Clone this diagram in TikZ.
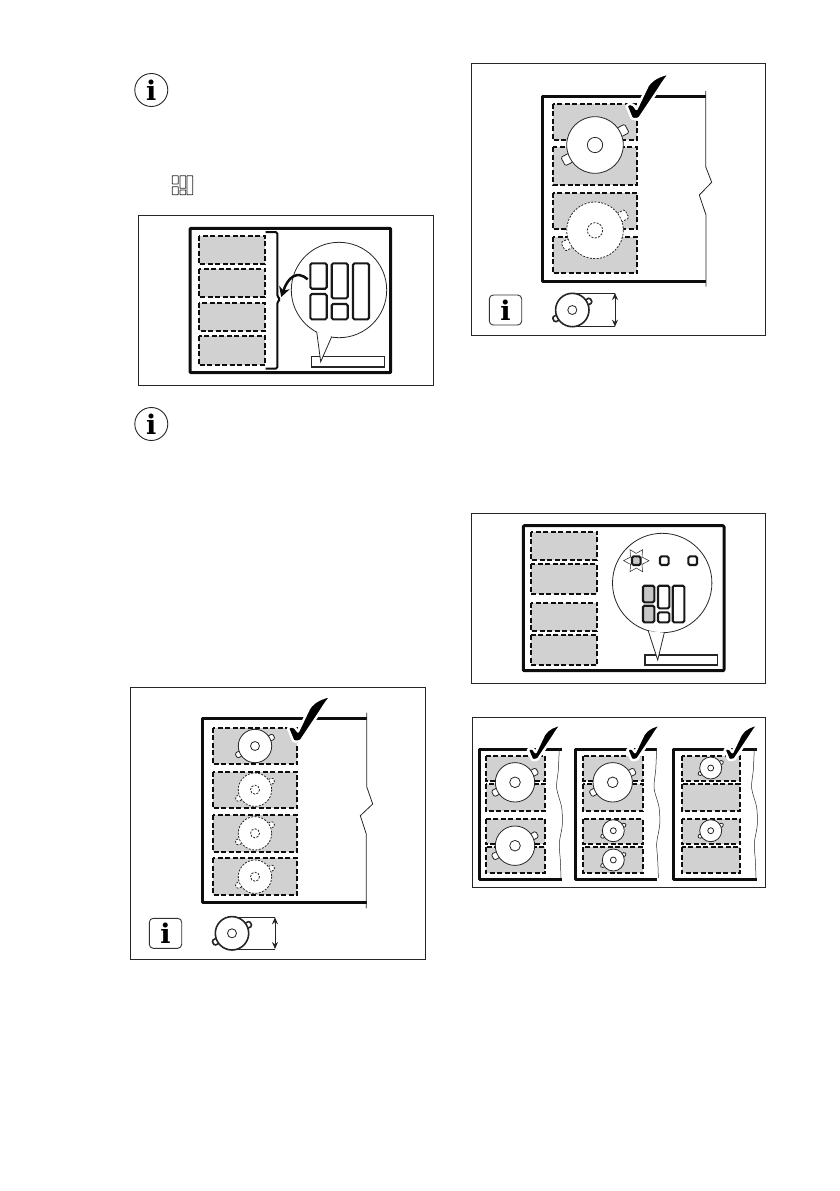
\documentclass[tikz,border=0pt]{standalone}
\usepackage{fontspec}
\usepackage{tikz}
\usetikzlibrary{arrows.meta,positioning,calc}
\newfontfamily\infofont{DejaVu Serif}

\begin{document}
\begin{tikzpicture}[x=1pt,y=-1pt,
  frameline/.style={draw=black!85, line width=0.8pt},
  panel/.style={draw=black!95, line width=3pt, line join=round},
  zone/.style={fill=black!18, draw=black!95, line width=1.9pt, dash pattern=on 5pt off 2.5pt},
  keybox/.style={fill=white, draw=black!90, line width=2.1pt, rounded corners=1.5pt},
  litkey/.style={keybox, fill=black!22},
  thinline/.style={draw=black!85, line width=0.8pt},
  lidline/.style={dash pattern=on 2pt off 1.4pt},
  infotxt/.style={inner sep=0pt, font=\fontsize{27}{27}\infofont\bfseries},
  infobox/.style={draw=black!80, line width=0.9pt, rounded corners=4pt}]

\useasboundingbox (0,0) rectangle (839,1191);

\def\drawpot#1#2#3#4{
  \begin{scope}[shift={(#1,#2)},scale=#3]
    \filldraw[fill=white, thinline, #4, rotate=27.5, rounded corners=1.4pt] (0.85,-0.17) rectangle (1.27,0.17);
    \filldraw[fill=white, thinline, #4, rotate=207.5, rounded corners=1.4pt] (0.85,-0.17) rectangle (1.27,0.17);
    \filldraw[fill=white, thinline, #4] (0,0) circle (1);
  \end{scope}
}

\def\drawhub#1#2#3#4{
  \begin{scope}[shift={(#1,#2)},scale=#3]
    \draw[thinline, #4] (0,0) circle (0.27);
  \end{scope}
}

\def\drawtick#1#2#3{
  \begin{scope}[shift={(#1,#2)},scale=#3]
    \filldraw[fill=black, draw=white, line width=2.4pt, line join=round]
      (-7,-13) .. controls (-5,-15.5) and (-2,-16) .. (0,-14)
      -- (3,-10) -- (14,-33) .. controls (19,-41) and (28,-44) .. (37,-46)
      .. controls (33,-42) and (29,-36) .. (26,-31) -- (6,-1)
      .. controls (4,0.5) and (-1,0.5) .. (-2,-1) -- cycle;
  \end{scope}
}

\def\drawwave#1{
  \begin{scope}[shift={(#1,0)}]
    \draw[thinline, line width=0.5pt] plot[smooth] coordinates {(0,748) (-1,770) (-2.7,788) (2.3,807)
      (3,825) (0,843) (1,860) (1.7,878)};
  \end{scope}
}

\node[circle, draw=black!85, line width=0.9pt, minimum size=33pt, inner sep=0pt] (info1) at (151.3,90) {};
\node[infotxt] (info1i) at (151.3,90) {i};
\node[circle, draw=black!85, line width=0.9pt, minimum size=33pt, inner sep=0pt] (info2) at (151.3,424) {};
\node[infotxt] (info2i) at (151.3,424) {i};

\foreach \a/\b/\c/\d in {172.3/175.7/178.3/184, 172.3/186.7/178.3/194.7, 180/175.7/185.7/188.3,
                         180/190/185.7/194.7, 187/175.7/192.7/194.7}
  \draw[thinline, rounded corners=0.5pt] (\a,\b) rectangle (\c,\d);

\draw[frameline] (138.3,215.3) rectangle (433.3,385.3);
\draw[panel, rounded corners=1pt] (190,228.3) rectangle (390.7,372.7);
\foreach \b/\d in {235.7/264, 268.7/297.3, 302.7/330.7, 336/365}
  \filldraw[zone] (198.7,\b) rectangle (265,\d);
\draw[draw=black!95, line width=2pt, rounded corners=1.5pt] (265.7,232) -- (277.3,232) -- (277.3,296.5)
  -- (280.3,299.3) -- (277.3,302) -- (277.3,368.7) -- (265.7,368.7);
\draw[thinline, line width=1.2pt, fill=white] (311.7,356.7) rectangle (384.3,367);
\filldraw[fill=white, thinline] (339,290) circle (47.7);
\fill[white] (316.7,331.7) -- (320.7,361.7) -- (331.7,336.7) -- cycle;
\draw[thinline] (316.7,331.7) -- (320.7,361.7) -- (331.7,336.7);
\foreach \a/\b/\c/\d in {310.3/263.3/326.7/288.7, 310.3/294/326.7/319.3, 331.7/263.3/347.7/298.3,
                         331.7/304/347.7/319.3, 353/263.3/369/319.3}
  \draw[keybox] (\a,\b) rectangle (\c,\d);
\coordinate (keystart) at (307.7,279.3);
\coordinate (bracetip) at (281.2,297);
\draw[-{Stealth[length=10pt,width=11pt]}, draw=black!95, line width=2.5pt] (keystart) .. controls (297,270) and (288,277) .. (bracetip);

\draw[frameline] (130.3,687.3) rectangle (425.3,959.3);
\draw[panel] (366.7,718.3) -- (202.3,718.3) -- (202.3,902.3) -- (366.7,902.3);
\draw[thinline] (366.7,712.7) -- (366.7,786.7) -- (372.7,804) -- (360.3,815.7) -- (366.3,834) -- (366.3,908.3);
\foreach \b/\d in {727.7/764.3, 771.7/808.3, 815/851.7, 858.3/895}
  \filldraw[zone] (212.7,\b) rectangle (297.3,\d);
\drawpot{255}{746}{16.7}{}
\drawhub{255}{746}{16.7}{}
\foreach \y in {789.7, 833.3, 876.7}
  {\drawpot{255}{\y}{16.7}{lidline}\drawhub{255}{\y}{16.7}{lidline}}
\drawtick{295}{741.5}{1}
\draw[infobox] (149.3,918.3) rectangle (181.7,948.3);
\node[infotxt] (info3i) at (165.5,933.3) {i};
\draw[thinline] (232,917.3) -- (275,917.3);
\draw[thinline] (232,949) -- (275,949);
\drawpot{232}{933.3}{16.7}{line width=1.6pt}
\drawhub{232}{933.3}{16.7}{}
\coordinate (dimtop1) at (275,917.3);
\coordinate (dimbot1) at (275,949);
\draw[{Stealth[length=7pt,width=6pt]}-{Stealth[length=7pt,width=6pt]}, draw=black!85, line width=0.8pt] (dimtop1) -- (dimbot1);

\draw[frameline] (471.3,63.3) rectangle (765.7,335);
\draw[panel] (705.7,96.3) -- (542.3,96.3) -- (542.3,281.7) -- (705.7,281.7);
\draw[thinline] (705.7,91) -- (705.7,166.7) -- (711.7,182.3) -- (699.3,195) -- (706,215) -- (706,286.7);
\foreach \b/\d in {103.7/140, 147.3/185, 192.7/229, 236.7/273.3}
  \filldraw[zone] (552.7,\b) rectangle (637.3,\d);
\drawpot{595}{145}{28.3}{}
\drawhub{595}{145}{28.3}{}
\drawpot{595}{230.3}{28.3}{lidline}
\drawhub{595}{230.3}{28.3}{lidline}
\drawtick{633.5}{119}{1}
\draw[infobox] (489.3,295) rectangle (521.7,325);
\node[infotxt] (info4i) at (505.5,310) {i};
\draw[thinline] (572.3,293) -- (615,293);
\draw[thinline] (572.3,326.7) -- (615,326.7);
\drawpot{572.3}{310}{16.7}{line width=1.6pt}
\drawhub{572.3}{310}{16.7}{}
\coordinate (dimtop2) at (615,293);
\coordinate (dimbot2) at (615,326.7);
\draw[{Stealth[length=7pt,width=6pt]}-{Stealth[length=7pt,width=6pt]}, draw=black!85, line width=0.8pt] (dimtop2) -- (dimbot2);

\draw[frameline] (471.3,513.3) rectangle (765.7,683.3);
\draw[panel, rounded corners=1pt] (523.3,525.7) rectangle (724,670.7);
\foreach \b/\d in {531.7/560, 564.3/593.7, 602.7/631, 635.3/665}
  \filldraw[zone] (530.7,\b) rectangle (597.3,\d);
\draw[thinline, line width=1.2pt, fill=white] (645,655) rectangle (717.3,665);
\filldraw[fill=white, thinline] (662.2,583) circle (49.7);
\fill[white] (648.3,631) -- (657.7,660) -- (664.3,632.7) -- cycle;
\draw[thinline] (648.3,631) -- (657.7,660) -- (664.3,632.7);
\draw[thinline, line width=0.5pt] (649,560.7) -- (642,557) -- (642.6,549.7) -- (636.3,553.4) -- (630,549.7)
  -- (630.6,557) -- (623.6,560.7) -- (630.6,564.4) -- (630,571.7) -- (636.3,568) -- (642.6,571.7) -- (642,564.4) -- cycle;
\draw[litkey] (632,556.4) rectangle (640.6,565);
\foreach \x in {664.3, 692.7}
  \draw[keybox] (\x-4.3,556.4) rectangle (\x+4.3,565);
\foreach \a/\b/\c/\d in {643/585.7/654.3/602.3, 643/605.7/654.3/622.3}
  \draw[litkey] (\a,\b) rectangle (\c,\d);
\foreach \a/\b/\c/\d in {658/585.7/669.3/608.3, 658/612.3/669.3/622.3, 672.7/585.7/684.3/622.3}
  \draw[keybox] (\a,\b) rectangle (\c,\d);

\draw[frameline] (472,717.3) rectangle (765.7,887.3);
\foreach \l/\r/\m/\n/\w in {479/561.7/485.7/545.3/559.3, 575.7/656.7/583.3/643.3/656.7, 673.7/756.7/681.7/740.3/754.3}{
  \draw[panel] (\r,749.3) -- (\l,749.3) -- (\l,879.3) -- (\r,879.3);
  \drawwave{\w}
  \foreach \b/\d in {755.7/781, 784/811, 819/844.3, 847.3/873.3}
    \filldraw[zone] (\m,\b) rectangle (\n,\d);
}
\foreach \x/\y/\s in {515/782.3/19.7, 515/845.7/19.7, 612.7/782.3/19.7, 613.3/830.7/11,
                      613.3/860/11, 710.7/768/11, 710.7/830.7/11}
  {\drawpot{\x}{\y}{\s}{}\drawhub{\x}{\y}{\s}{}}
\foreach \x in {533.3, 632.7, 730}
  {\drawtick{\x}{760}{0.78}}

\end{tikzpicture}
\end{document}
